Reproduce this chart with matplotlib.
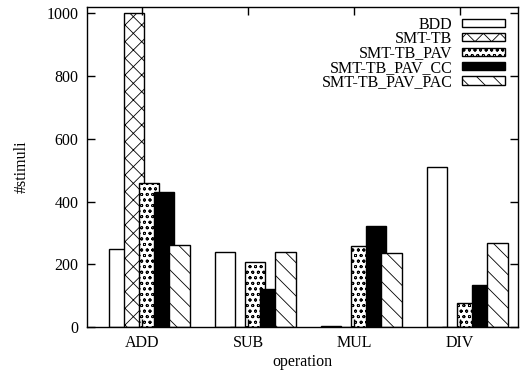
import numpy as np
import matplotlib
matplotlib.use("Agg")
import matplotlib.pyplot as plt

plt.rcParams['font.family'] = ['Liberation Serif', 'DejaVu Serif']
plt.rcParams['hatch.linewidth'] = 0.6
plt.rcParams['axes.linewidth'] = 1.0

operations = ["ADD", "SUB", "MUL", "DIV"]
series = ["BDD", "SMT-TB", "SMT-TB_PAV", "SMT-TB_PAV_CC", "SMT-TB_PAV_PAC"]

bdd        = [249, 240, 3, 511]
smt_tb     = [1000, 0, 0, 0]
smt_pav    = [460, 206, 259, 77]
smt_pav_cc = [430, 120, 322, 134]
smt_pav_pac = [261, 240, 235, 267]

values = [bdd, smt_tb, smt_pav, smt_pav_cc, smt_pav_pac]
hatches = ["", "xx", "ooo", "", "\\\\"]
faces = ["white", "white", "white", "black", "white"]

fig = plt.figure(figsize=(5.22, 3.72), dpi=100)
ax = fig.add_axes([0.1667, 0.121, 0.9914 - 0.1667, 0.9812 - 0.121])

x = np.arange(len(operations))
step = 0.1436
width = 0.19
for i, (name, vals) in enumerate(zip(series, values)):
    ax.bar(x + 0.066 + (i - 2) * step, vals, width=width, color=faces[i],
           edgecolor="black", linewidth=1.0, hatch=hatches[i], label=name)

ax.set_xlim(-0.519, 3.542)
ax.set_ylim(0, 1020)
ax.set_xticks(x)
ax.set_xticklabels(operations)
ax.set_yticks(np.arange(0, 1001, 200))
ax.tick_params(direction="in", length=5.5, width=1.0, labelsize=11.5,
               top=True, right=True, pad=6)
ax.set_xlabel("operation", fontsize=11.5, labelpad=2)
ax.set_ylabel("#stimuli", fontsize=11.5, labelpad=12)

leg = ax.legend(loc="upper right", frameon=False, markerfirst=False,
                fontsize=11.5, handlelength=2.7, handleheight=0.4,
                labelspacing=-0.1, handletextpad=0.6,
                borderaxespad=0.3, bbox_to_anchor=(0.997, 1.005))

fig.savefig("out.png", dpi=100)
